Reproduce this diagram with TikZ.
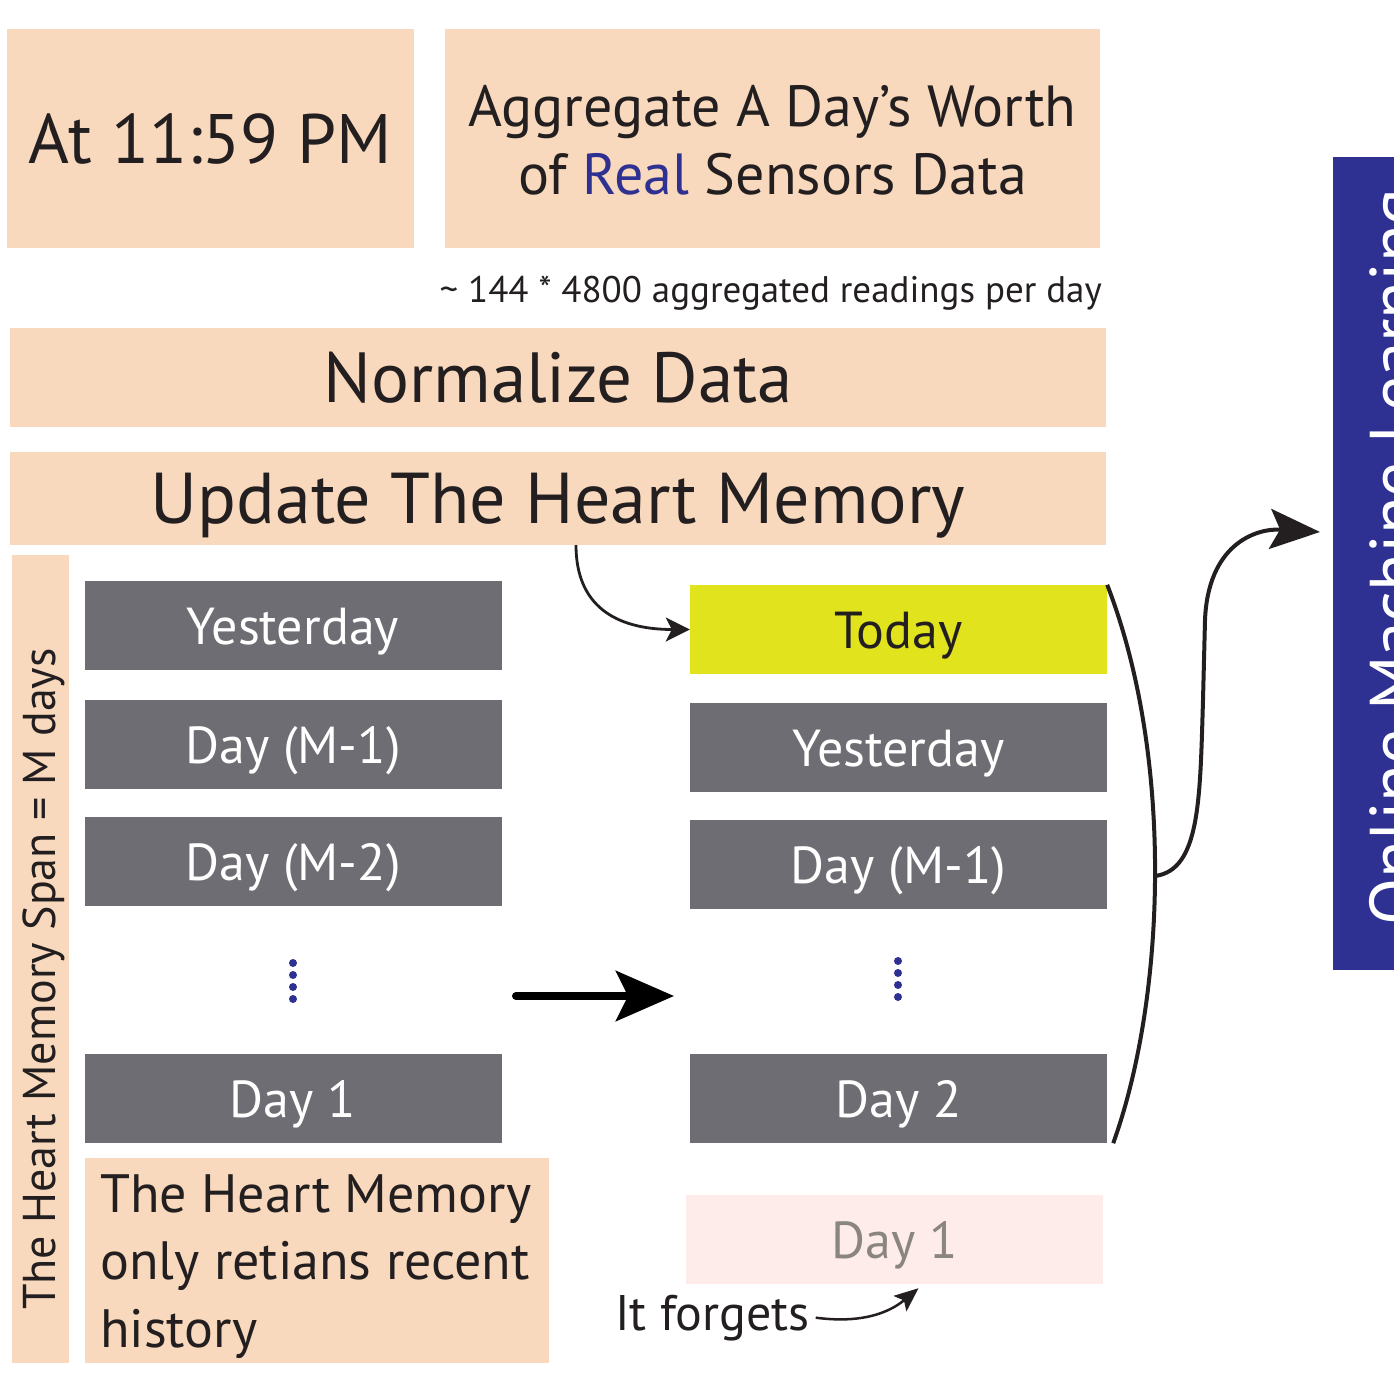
\documentclass[tikz,border=0pt]{standalone}
\usepackage{fontspec}
\setmainfont{PT Sans}
\usetikzlibrary{arrows.meta}

\definecolor{peach}{HTML}{F9D9BD}
\definecolor{slate}{HTML}{6E6D73}
\definecolor{lime}{HTML}{E1E31C}
\definecolor{navy}{HTML}{2E3192}
\definecolor{ink}{HTML}{231F20}
\definecolor{blush}{HTML}{FDECEA}
\definecolor{faded}{HTML}{8A8580}

\newcommand{\fsz}[2]{\fontsize{#1}{#2}\selectfont}

\begin{document}
\begin{tikzpicture}[x=1pt,y=-1pt,
    box/.style={fill=peach,text=ink,inner sep=0pt},
    daybox/.style={fill=slate,text=white,inner sep=0pt,minimum width=417pt,minimum height=89pt,
      text height=37pt,text depth=0pt,font=\fsz{52}{60}},
    curvy/.style={draw=ink,line width=4pt}]
  \useasboundingbox (0,0) rectangle (1394,1400);

  % top row
  \node[box,minimum width=407pt,minimum height=219pt,text height=50pt,text depth=0pt,
    font=\fsz{70}{80}] (clock) at (210.5,138.5) {At 11:59 PM};
  \node[box,minimum width=655pt,minimum height=219pt] (aggr) at (772.5,138.5) {};
  \node[align=center,inner sep=0pt,text=ink,font=\fsz{58}{68}] (aggrtext) at (772.5,140)
    {Aggregate A Day’s Worth\\of \textcolor{navy}{Real} Sensors Data};
  \node[anchor=base east,inner sep=0pt,text=ink,font=\fsz{37}{40}] (rate) at (1102,302)
    {\textasciitilde{} 144 * 4800 aggregated readings per day};

  % processing steps
  \node[box,minimum width=1096pt,minimum height=99pt,text height=50pt,text depth=0pt,
    font=\fsz{71}{80}] (norm) at (558,377.5) {Normalize Data};
  \node[box,minimum width=1096pt,minimum height=93pt,text height=50pt,text depth=0pt,
    font=\fsz{72}{80}] (update) at (558,498.5) {Update The Heart Memory};

  % memory span
  \node[box,minimum width=57pt,minimum height=808pt] (spanbar) at (40.5,959) {};
  \node[rotate=90,anchor=base,inner sep=0pt,text=ink,font=\fsz{46}{50}] (span) at (55,979)
    {The Heart Memory Span = M days};

  % the memory before the update
  \foreach \n/\y/\t in {yestL/625.5/Yesterday, m1L/744.5/Day (M-1), m2L/861.5/Day (M-2), day1L/1098.5/Day 1}
    \node[daybox] (\n) at (293,\y) {\t};
  \foreach \k in {0,...,3}
    \fill[navy] (293,963+12*\k) circle (4pt);

  \node[box,minimum width=464pt,minimum height=205pt] (note) at (317,1260.5) {};
  \node[anchor=north west,align=left,inner sep=0pt,text=ink,font=\fsz{54}{67.5}] (notetext) at (100,1174)
    {The Heart Memory\\only retians recent\\history};

  % the memory after the update
  \node[daybox,fill=lime,text=ink] (todayR) at (898.5,629.5) {Today};
  \foreach \n/\y/\t in {yestR/747.5/Yesterday, m1R/864.5/Day (M-1), day2R/1098.5/Day 2}
    \node[daybox] (\n) at (898.5,\y) {\t};
  \foreach \k in {0,...,3}
    \fill[navy] (898,961+12*\k) circle (4pt);

  \node[daybox,fill=blush,text=faded] (gone) at (894.5,1239.5) {Day 1};
  \node[anchor=base west,inner sep=0pt,text=ink,font=\fsz{50}{56}] (forgets) at (615,1330) {It forgets};

  % online learning
  \node[fill=navy,inner sep=0pt,minimum width=127pt,minimum height=813pt] (mlbar) at (1396.5,563.5) {};
  \node[rotate=90,anchor=base,inner sep=0pt,text=white,font=\fsz{69}{80}] (mltext) at (1418,557)
    {Online Machine Learning};

  % arrows
  \coordinate (shiftA) at (516,996);
  \coordinate (shiftB) at (674,996);
  \coordinate (mlin) at (1320,532);
  \draw[line width=8pt,line cap=round,-{Stealth[length=58pt,width=50pt,inset=12pt]}] (shiftA) -- (shiftB);
  \draw[draw=ink,line width=2.8pt,-{Stealth[length=24pt,width=24pt,inset=6pt]}]
    ([xshift=18pt]update.south) .. controls +(0,60) and +(-75,0) .. (todayR.west);
  \draw[curvy] (todayR.north east) .. controls (1175,760) and (1165,1000) .. ([xshift=6pt]day2R.south east)
    coordinate[pos=0.5] (brk);
  \draw[curvy,-{Stealth[length=50pt,width=40pt,inset=10pt]}] (brk)
    .. controls (1200,870) and (1200,800) .. (1203,700) -- (1205,620)
    .. controls (1208,545) and (1255,528) .. (mlin);
  \draw[draw=ink,line width=2.5pt,-{Stealth[length=24pt,width=20pt,inset=5pt]}]
    ([xshift=6pt]forgets.east) .. controls +(45,6) and +(-30,25) .. ([xshift=24pt,yshift=-4pt]gone.south);
\end{tikzpicture}
\end{document}
